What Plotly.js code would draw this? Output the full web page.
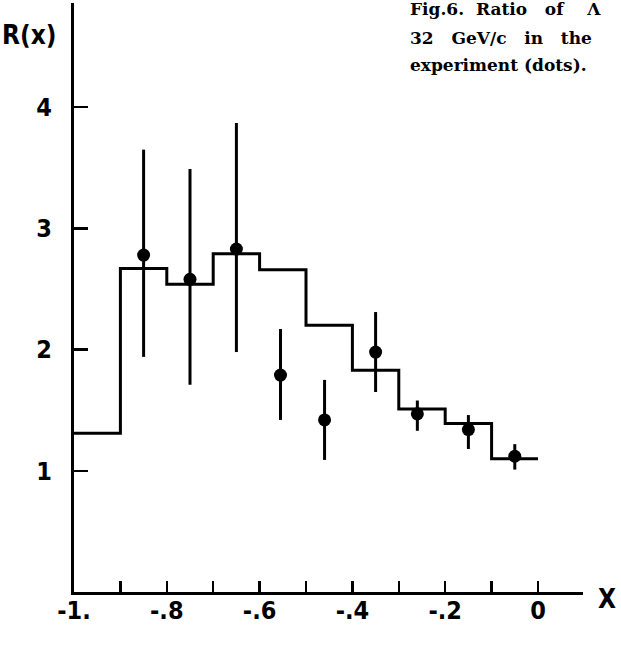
<!DOCTYPE html>
<html>
<head>
<meta charset="utf-8">
<script src="https://cdn.plot.ly/plotly-3.0.1.min.js"></script>
<style>html,body{margin:0;padding:0;background:#fff;}#chart{width:621px;height:648px;}</style>
</head>
<body>
<div id="chart"></div>
<script>
// Histogram (solid steps): left bin edges and heights
const binEdges = [-1.0, -0.9, -0.8, -0.7, -0.6, -0.5, -0.4, -0.3, -0.2, -0.1, 0.0];
const binHeights = [1.31, 2.67, 2.54, 2.79, 2.66, 2.20, 1.83, 1.51, 1.39, 1.10];

// Experimental points (dots) with error bars
const pointX = [-0.85, -0.75, -0.65, -0.555, -0.46, -0.35, -0.26, -0.15, -0.05];
const pointY = [2.78, 2.58, 2.83, 1.79, 1.42, 1.98, 1.47, 1.34, 1.12];
const pointHigh = [3.65, 3.49, 3.87, 2.17, 1.75, 2.31, 1.58, 1.46, 1.22];
const pointLow = [1.94, 1.71, 1.98, 1.42, 1.09, 1.65, 1.33, 1.18, 1.01];

// Tick labels
const xTickVals = [-1.0, -0.9, -0.8, -0.7, -0.6, -0.5, -0.4, -0.3, -0.2, -0.1, 0.0];
const xTickText = ["-1.", "", "-.8", "", "-.6", "", "-.4", "", "-.2", "", "0"];
const yTickVals = [1, 2, 3, 4];
const yTickText = ["1", "2", "3", "4"];

const captionLines = [
  "Fig.6.\u00A0\u00A0Ratio\u00A0\u00A0\u00A0of\u00A0\u00A0\u00A0\u00A0\u039B",
  "32\u00A0\u00A0\u00A0GeV/c\u00A0\u00A0\u00A0in\u00A0\u00A0\u00A0the",
  "experiment\u00A0(dots)."
];

const histX = binEdges.slice();
const histY = binHeights.concat([binHeights[binHeights.length - 1]]);

const traces = [
  {
    x: histX, y: histY, type: 'scatter', mode: 'lines',
    line: {shape: 'hv', color: '#000', width: 3},
    hoverinfo: 'skip', showlegend: false
  },
  {
    x: pointX, y: pointY, type: 'scatter', mode: 'markers',
    marker: {color: '#000', size: 13},
    error_y: {
      type: 'data', symmetric: false,
      array: pointHigh.map((h, i) => h - pointY[i]),
      arrayminus: pointLow.map((l, i) => pointY[i] - l),
      color: '#000', thickness: 3, width: 0
    },
    showlegend: false
  }
];

const sansCond = 'DejaVu Sans Condensed, DejaVu Sans, sans-serif';
const tickFont = {family: sansCond, size: 25, color: '#000', weight: 'bold'};
const capFont = {family: 'DejaVu Serif, serif', size: 17, color: '#000', weight: 'bold'};

const annotations = [
  {text: 'R(x)', xref: 'paper', yref: 'paper', x: -0.145, y: 0.946, xanchor: 'left', yanchor: 'middle',
   showarrow: false, font: {family: sansCond, size: 26, color: '#000', weight: 'bold'}},
  {text: 'X', xref: 'paper', yref: 'paper', x: 1.026, y: -0.012, xanchor: 'left', yanchor: 'middle',
   showarrow: false, font: {family: sansCond, size: 26, color: '#000', weight: 'bold'}}
];
const capY = [0.990, 0.941, 0.894];
captionLines.forEach((t, i) => {
  annotations.push({text: t, xref: 'paper', yref: 'paper', x: 0.656, y: capY[i], xanchor: 'left', yanchor: 'middle',
    showarrow: false, font: capFont});
});

const layout = {
  width: 621, height: 648,
  margin: {l: 74, r: 38, t: 3, b: 56, pad: 0},
  paper_bgcolor: '#fff', plot_bgcolor: '#fff',
  showlegend: false,
  xaxis: {
    range: [-1, 0.097], showgrid: false, zeroline: false,
    showline: true, linecolor: '#000', linewidth: 3,
    ticks: 'inside', ticklen: 11, tickwidth: 2.5, tickcolor: '#000',
    tickmode: 'array', tickvals: xTickVals, ticktext: xTickText,
    tickfont: tickFont, ticklabelstandoff: -6
  },
  yaxis: {
    range: [0, 4.86], showgrid: false, zeroline: false,
    showline: true, linecolor: '#000', linewidth: 3,
    ticks: 'inside', ticklen: 14, tickwidth: 2.5, tickcolor: '#000',
    tickmode: 'array', tickvals: yTickVals, ticktext: yTickText,
    tickfont: tickFont, ticklabelstandoff: 14
  },
  annotations: annotations
};

Plotly.newPlot('chart', traces, layout, {displayModeBar: false, staticPlot: true});
</script>
</body>
</html>
